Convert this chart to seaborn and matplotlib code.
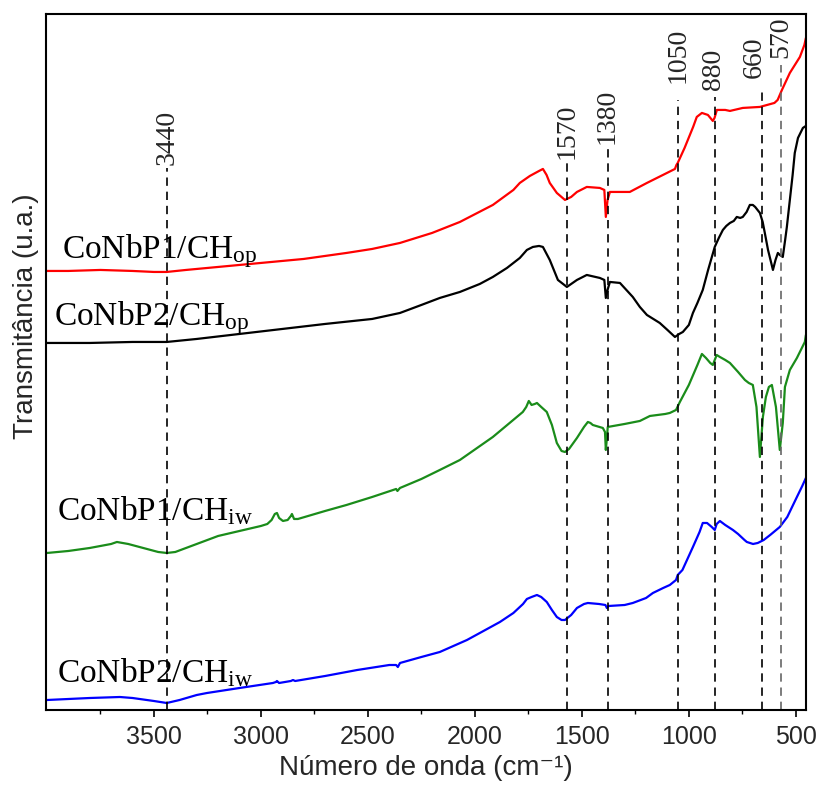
import numpy as np
import pandas as pd
import matplotlib
matplotlib.use("Agg")
import matplotlib.pyplot as plt
import seaborn as sns

# FTIR spectra (wavenumber in cm-1, transmittance in a.u., stacked with offsets)
wn_p1_op = [4000, 3900, 3750, 3600, 3500, 3440, 3350, 3200, 3000, 2800, 2600, 2480, 2350, 2200,
            2070, 1916, 1820, 1790, 1743, 1700, 1682, 1665, 1650, 1617, 1579, 1550, 1523, 1477,
            1416, 1395, 1388, 1380, 1369, 1276, 1196, 1121, 1065, 1058, 1052, 1020, 980, 963,
            939, 911, 888, 880, 869, 830, 808, 748, 668, 600, 585, 565, 528, 481, 460, 453]
t_p1_op = [439, 439, 440, 439, 438, 438, 440, 443, 447, 451, 457, 461, 467, 477,
           488, 505, 520, 527, 534, 539, 541, 535, 527, 517, 510, 513, 518, 523,
           522, 520, 493, 510, 518, 518, 527, 535, 541, 545, 547, 562, 583, 593,
           597, 595, 589, 592, 600, 600, 599, 602, 603, 607, 610, 620, 637, 653, 665, 672]

wn_p2_op = [4000, 3800, 3600, 3440, 3300, 3100, 2900, 2700, 2480, 2350, 2250, 2164, 2070, 1977,
            1916, 1850, 1790, 1757, 1729, 1700, 1682, 1650, 1612, 1570, 1523, 1477, 1416, 1395,
            1388, 1380, 1369, 1322, 1262, 1229, 1196, 1136, 1100, 1065, 1045, 1028, 1000, 981,
            960, 935, 910, 879, 860, 841, 825, 808, 790, 776, 760, 748, 730, 715, 701, 690,
            668, 655, 645, 630, 615, 607, 595, 584, 575, 561, 550, 542, 528, 515, 505, 490,
            467, 453]
t_p2_op = [367, 367, 368, 368, 371, 376, 381, 386, 391, 397, 405, 412, 418, 426,
           433, 442, 452, 460, 463, 464, 463, 450, 430, 423, 430, 435, 432, 430,
           412, 420, 428, 427, 413, 403, 395, 387, 380, 373, 376, 378, 385, 397,
           407, 420, 440, 463, 472, 480, 484, 487, 489, 493, 492, 493, 498, 505, 505, 503,
           497, 488, 477, 460, 447, 440, 450, 457, 455, 453, 470, 483, 510, 535, 557, 572,
           582, 584]

wn_p1_iw = [4000, 3900, 3800, 3700, 3673, 3620, 3550, 3480, 3440, 3400, 3300, 3200, 3100, 3000,
            2970, 2950, 2935, 2925, 2915, 2897, 2875, 2860, 2855, 2845, 2827, 2700, 2600, 2480,
            2368, 2362, 2350, 2250, 2164, 2070, 1916, 1776, 1760, 1748, 1735, 1720, 1710, 1690,
            1664, 1640, 1617, 1595, 1579, 1560, 1523, 1490, 1472, 1460, 1449, 1402, 1392, 1388,
            1383, 1379, 1300, 1229, 1182, 1110, 1089, 1060, 1042, 1000, 960, 939, 920, 900,
            888, 870, 855, 830, 808, 770, 738, 720, 701, 684, 668, 654, 640, 626, 612, 593,
            575, 561, 551, 528, 495, 458, 453]
t_p1_iw = [157, 159, 162, 166, 168, 166, 162, 158, 157, 158, 166, 174, 179, 184,
           186, 190, 196, 197, 192, 189, 190, 194, 196, 191, 191, 199, 205, 213,
           221, 219, 222, 231, 240, 250, 273, 298, 303, 309, 305, 306, 307, 303,
           298, 285, 267, 259, 258, 261, 272, 283, 288, 287, 285, 282, 278, 260,
           272, 283, 286, 289, 294, 296, 297, 300, 308, 325, 345, 356, 352, 347,
           345, 355, 353, 350, 347, 338, 330, 327, 325, 303, 253, 293, 313, 323, 325, 303,
           260, 287, 323, 340, 352, 368, 375]

wn_p2_iw = [4000, 3800, 3659, 3600, 3500, 3440, 3380, 3300, 3252, 3100, 2944, 2930, 2925, 2915,
            2860, 2850, 2840, 2700, 2550, 2400, 2368, 2360, 2350, 2250, 2164, 2037, 1977, 1883,
            1820, 1775, 1757, 1735, 1710, 1690, 1664, 1640, 1617, 1595, 1579, 1550, 1523, 1490,
            1472, 1420, 1390, 1383, 1375, 1300, 1262, 1200, 1168, 1120, 1089, 1060, 1052, 1030,
            981, 950, 935, 915, 893, 879, 870, 855, 830, 794, 770, 740, 729, 700, 678, 650,
            620, 575, 540, 495, 470, 453]
t_p2_iw = [10, 12, 13, 12, 9, 7, 10, 15, 17, 22, 27, 28, 29, 27,
           29, 30, 29, 34, 40, 45, 45, 43, 47, 53, 58, 70, 77, 88,
           97, 106, 111, 113, 115, 113, 108, 100, 93, 90, 90, 95, 102, 106,
           107, 106, 105, 102, 104, 105, 107, 112, 117, 122, 125, 130, 135, 140,
           163, 178, 187, 187, 183, 180, 186, 189, 185, 180, 176, 170, 168, 166, 167, 170,
           175, 183, 193, 213, 224, 232]

band_wn = [3440, 1570, 1380, 1050, 880, 660, 570]
band_labels = ["3440", "1570", "1380", "1050", "880", "660", "570"]

series_names = ["CoNbP1/CH$_{\\rm op}$", "CoNbP2/CH$_{\\rm op}$",
                "CoNbP1/CH$_{\\rm iw}$", "CoNbP2/CH$_{\\rm iw}$"]
series_colors = ["#ff0000", "#000000", "#1a8c1a", "#0000ff"]

sns.set_theme(style="ticks")
plt.rcParams["font.family"] = ["Liberation Sans", "DejaVu Sans"]
plt.rcParams["mathtext.fontset"] = "custom"
plt.rcParams["mathtext.rm"] = "Liberation Serif"
plt.rcParams["mathtext.it"] = "Liberation Serif:italic"

frames = []
for name, w, t in zip(series_names,
                      [wn_p1_op, wn_p2_op, wn_p1_iw, wn_p2_iw],
                      [t_p1_op, t_p2_op, t_p1_iw, t_p2_iw]):
    frames.append(pd.DataFrame({"wn": w, "T": t, "amostra": name}))
df = pd.concat(frames, ignore_index=True)

fig = plt.figure(figsize=(8.19, 7.91), dpi=100)
ax = fig.add_axes([0.056, 0.1024, 0.928, 0.88])

sns.lineplot(data=df, x="wn", y="T", hue="amostra", palette=series_colors,
             hue_order=series_names, lw=1.6, legend=False, ax=ax)

# dashed band markers with rotated labels (label x nudged where the original sits off the line)
line_top = [542, 548, 563, 610, 613, 622, 645]
label_bottom = [545, 551, 566, 627, 620, 632, 652]
label_shift = [0, 0, 0, 0, 5, 33, 0]
for w, lab, top, lb, dx in zip(band_wn, band_labels, line_top, label_bottom, label_shift):
    col = "0.4" if w == 570 else "black"
    ax.plot([w, w], [0, top], ls=(0, (5, 3.5)), color=col, lw=1.2)
    ax.text(w + dx, lb, lab, rotation=90, ha="center", va="bottom", fontsize=20,
            family="Liberation Serif", clip_on=False)

# sample labels
label_pos = [(3930, 452), (3967, 385), (3953, 190), (3953, 28)]
for name, (x, y) in zip(series_names, label_pos):
    ax.text(x, y, name, fontsize=24, ha="left", va="baseline", color="black",
            family="Liberation Serif")

ax.set_xlim(4005, 453)
ax.set_ylim(0, 696)
ax.set_xticks([3500, 3000, 2500, 2000, 1500, 1000, 500])
ax.set_xticks([3750, 3250, 2750, 2250, 1750, 1250, 750], minor=True)
ax.set_yticks([])
ax.tick_params(axis="x", which="major", direction="out", length=5, width=1.2,
               labelsize=18, pad=6, color="black")
ax.tick_params(axis="x", which="minor", direction="out", length=3, width=1.0, color="black")
for s in ax.spines.values():
    s.set_visible(True)
    s.set_color("black")
    s.set_linewidth(1.5)

ax.set_xlabel("Número de onda (cm⁻¹)", fontsize=20, labelpad=4)
ax.set_ylabel("Transmitância (u.a.)", fontsize=20)
ax.yaxis.set_label_coords(-0.009, 0.566)

fig.savefig("out.png", dpi=100)
plt.close(fig)
